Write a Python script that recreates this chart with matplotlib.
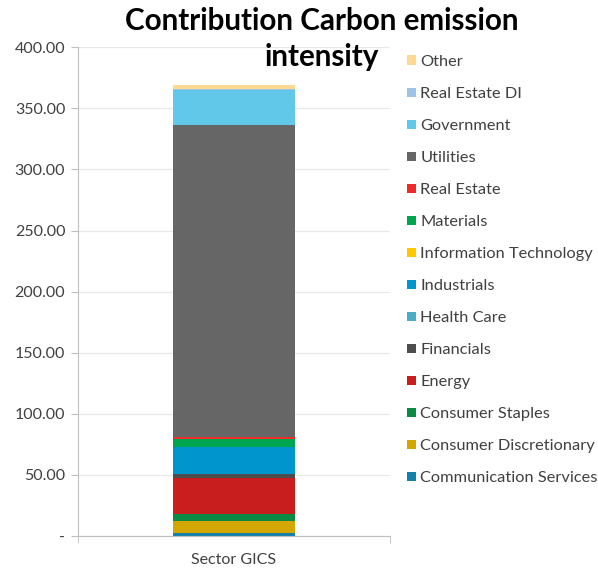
import matplotlib.pyplot as plt
from matplotlib.patches import Patch

plt.rcParams['font.family'] = ['Lato', 'DejaVu Sans']

# stacked from bottom to top
sectors = ['Communication Services', 'Consumer Discretionary', 'Consumer Staples',
           'Energy', 'Financials', 'Health Care', 'Industrials',
           'Information Technology', 'Materials', 'Real Estate', 'Utilities',
           'Government', 'Real Estate DI', 'Other']
values = [2.2, 10.3, 5.7, 29.4, 2.8, 0.3, 22.0, 0.2, 6.2, 1.6, 255.8, 28.6, 0.8, 3.3]
colors = ['#1580A8', '#D4A600', '#0A8A45', '#C81E1E', '#4D4D4D', '#4BACC6',
          '#0095CC', '#FFC800', '#00A550', '#EE2A2A', '#666666', '#62C8EA',
          '#9DC3E6', '#FFD991']
category = 'Sector GICS'
yticks = [0, 50, 100, 150, 200, 250, 300, 350, 400]
title_lines = ['Contribution Carbon emission', 'intensity']

fig = plt.figure(figsize=(5.98, 5.69), dpi=100)
ax = fig.add_axes([0.130, 0.058, 0.522, 0.859])

bottom = 0
for v, c in zip(values, colors):
    ax.bar(0, v, bottom=bottom, width=0.39, color=c, edgecolor='none', zorder=2)
    bottom += v

ax.set_xlim(-0.5, 0.5)
ax.set_ylim(0, 400)
ax.set_yticks(yticks)
ax.set_yticklabels(['-' if t == 0 else f'{t:.2f}' for t in yticks],
                   fontsize=11.5, color='#404040')
ax.grid(axis='y', color='#E8E8E8', linewidth=0.9, zorder=0)
ax.set_xticks([0])
ax.set_xticklabels([category], fontsize=11.5, color='#404040')
ax.tick_params(axis='x', length=0, pad=12)
ax.set_xticks([-0.5, 0.5], minor=True)
ax.tick_params(axis='x', which='minor', length=5, color='#BFBFBF')
ax.tick_params(axis='y', length=5, color='#BFBFBF', pad=4)
for s in ['top', 'right']:
    ax.spines[s].set_visible(False)
for s in ['left', 'bottom']:
    ax.spines[s].set_color('#BFBFBF')

# title drawn as two centred lines
for line, y in zip(title_lines, [0.963, 0.899]):
    fig.text(0.538, y, line, ha='center', va='center', fontsize=21.3,
             fontweight='bold')

handles = [Patch(facecolor=c, edgecolor='none') for c in colors][::-1]
fig.legend(handles, sectors[::-1], loc='upper left', bbox_to_anchor=(0.673, 0.912),
           frameon=False, fontsize=11.8, handlelength=0.5, handleheight=0.5,
           handletextpad=0.3, labelspacing=1.1, labelcolor='#404040',
           borderaxespad=0, borderpad=0.3)

fig.savefig('out.png', dpi=100)
